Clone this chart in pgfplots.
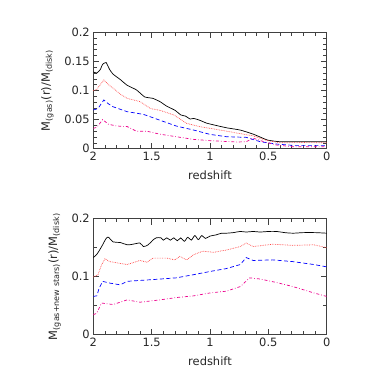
\documentclass[border=0pt]{standalone}
\usepackage{fontspec}
\setmainfont{DejaVu Sans}
\usepackage{pgfplots}
\pgfplotsset{compat=1.18}

\pgfplotsset{
  zplot/.style={
    scale only axis, width=233.4bp,
    x dir=reverse, xmin=0, xmax=2,
    xtick={0,0.5,1,1.5,2},
    minor x tick num=4,
    tick align=inside,
    major tick length=6bp, minor tick length=3.5bp,
    axis line style={black!75, line width=0.8pt},
    every tick/.style={black!75, line width=0.7pt},
    tick label style={font=\fontsize{11.5}{13}\selectfont, black!85},
    label style={font=\fontsize{11.5}{13}\selectfont, black!85},
    /pgf/number format/assume math mode=true,
    xlabel={redshift},
    xlabel shift=3bp,
    ylabel shift=4bp,
    every axis plot/.append style={line width=0.7pt},
  },
}

\begin{document}
\begin{tikzpicture}
\path[use as bounding box] (0,0) rectangle (382bp,382bp);

\begin{axis}[zplot, at={(93.3bp,233.3bp)}, anchor=south west,
  height=116.4bp, ymin=0, ymax=0.2,
  ytick={0,0.05,0.1,0.15,0.2}, minor y tick num=4,
  yticklabels={0,0.05,0.1,0.15,0.2},
  ylabel={M\textsubscript{(gas)}(r)/M\textsubscript{(disk)}}]
\addplot[black, smooth, tension=0.3] coordinates {
(2,0.132) (1.97,0.130) (1.94,0.136) (1.92,0.145) (1.89,0.148) (1.86,0.136)
(1.83,0.128) (1.77,0.119) (1.71,0.109) (1.63,0.101) (1.56,0.089) (1.49,0.0865)
(1.43,0.081) (1.37,0.073) (1.30,0.066) (1.25,0.058) (1.21,0.056) (1.17,0.051)
(1.14,0.052) (1.09,0.049) (1.03,0.044) (0.97,0.041) (0.86,0.036) (0.74,0.032)
(0.63,0.025) (0.57,0.020) (0.51,0.015) (0.45,0.013) (0.40,0.012) (0.29,0.012)
(0.15,0.012) (0,0.012)};
\addplot[red!75, densely dotted] coordinates {
(2,0.0997) (1.97,0.102) (1.94,0.110) (1.91,0.118) (1.87,0.110) (1.83,0.104)
(1.77,0.094) (1.71,0.0865) (1.60,0.081) (1.51,0.069) (1.43,0.066) (1.31,0.058)
(1.25,0.050) (1.20,0.0435) (1.09,0.038) (0.94,0.033) (0.80,0.028) (0.63,0.022)
(0.57,0.018) (0.51,0.014) (0.40,0.0103) (0.2,0.0105) (0,0.0103)};
\addplot[blue, dash pattern=on 4pt off 2.5pt] coordinates {
(2,0.0665) (1.96,0.069) (1.91,0.0837) (1.87,0.077) (1.83,0.072) (1.71,0.0636)
(1.57,0.059) (1.43,0.049) (1.29,0.039) (1.14,0.032) (1.0,0.0246) (0.86,0.0206)
(0.69,0.0195) (0.57,0.012) (0.43,0.008) (0.29,0.0057) (0.15,0.0057) (0,0.0057)};
\addplot[magenta, dash dot] coordinates {
(2,0.035) (1.97,0.0367) (1.92,0.050) (1.87,0.042) (1.80,0.039) (1.71,0.038)
(1.63,0.030) (1.54,0.030) (1.43,0.025) (1.29,0.0206) (1.14,0.016) (1.0,0.0138)
(0.77,0.0115) (0.69,0.012) (0.63,0.018) (0.58,0.015) (0.54,0.012) (0.43,0.0063)
(0.29,0.0034) (0.15,0.0034) (0,0.0034)};
\end{axis}

\begin{axis}[zplot, at={(93.3bp,47.3bp)}, anchor=south west,
  height=116bp, ymin=0, ymax=0.2,
  ytick={0,0.1,0.2}, minor y tick num=1,
  yticklabels={0,0.1,0.2},
  ylabel={M\textsubscript{(gas+new stars)}(r)/M\textsubscript{(disk)}}]
\addplot[black, smooth, tension=0.5] coordinates {
(2,0.133) (1.97,0.1385) (1.94,0.148) (1.92,0.155) (1.89,0.166) (1.87,0.168)
(1.83,0.160) (1.77,0.159) (1.71,0.155) (1.66,0.156) (1.60,0.158) (1.57,0.152)
(1.53,0.155) (1.49,0.163) (1.46,0.167) (1.42,0.167) (1.40,0.163) (1.37,0.167)
(1.34,0.163) (1.31,0.167) (1.28,0.162) (1.25,0.167) (1.22,0.161) (1.19,0.168)
(1.16,0.163) (1.13,0.171) (1.10,0.164) (1.07,0.171) (1.04,0.166) (1.0,0.170)
(0.95,0.172) (0.90,0.175) (0.86,0.175) (0.80,0.176) (0.74,0.178) (0.69,0.177)
(0.63,0.178) (0.57,0.177) (0.50,0.178) (0.43,0.178) (0.36,0.176) (0.29,0.175)
(0.20,0.176) (0.10,0.176) (0,0.175)};
\addplot[red!75, densely dotted] coordinates {
(2,0.0995) (1.96,0.1035) (1.93,0.120) (1.90,0.131) (1.86,0.126) (1.83,0.125)
(1.71,0.121) (1.60,0.128) (1.54,0.125) (1.49,0.132) (1.37,0.132) (1.30,0.129)
(1.26,0.135) (1.20,0.129) (1.14,0.138) (1.06,0.144) (0.97,0.142) (0.86,0.146)
(0.74,0.152) (0.69,0.158) (0.63,0.152) (0.46,0.156) (0.29,0.154) (0.11,0.155)
(0,0.150)};
\addplot[blue, dash pattern=on 4pt off 2.5pt] coordinates {
(2,0.066) (1.97,0.067) (1.95,0.080) (1.92,0.092) (1.86,0.089) (1.77,0.086)
(1.71,0.092) (1.57,0.094) (1.49,0.095) (1.29,0.098) (1.14,0.1035) (1.0,0.109)
(0.86,0.114) (0.74,0.121) (0.69,0.133) (0.63,0.128) (0.46,0.129) (0.29,0.126)
(0.11,0.121) (0,0.117)};
\addplot[magenta, dash dot] coordinates {
(2,0.0345) (1.97,0.037) (1.93,0.0546) (1.83,0.052) (1.71,0.060) (1.60,0.056)
(1.43,0.060) (1.29,0.064) (1.14,0.067) (1.0,0.072) (0.86,0.075) (0.74,0.083)
(0.66,0.098) (0.57,0.096) (0.43,0.090) (0.29,0.083) (0.11,0.072) (0,0.066)};
\end{axis}
\end{tikzpicture}
\end{document}
